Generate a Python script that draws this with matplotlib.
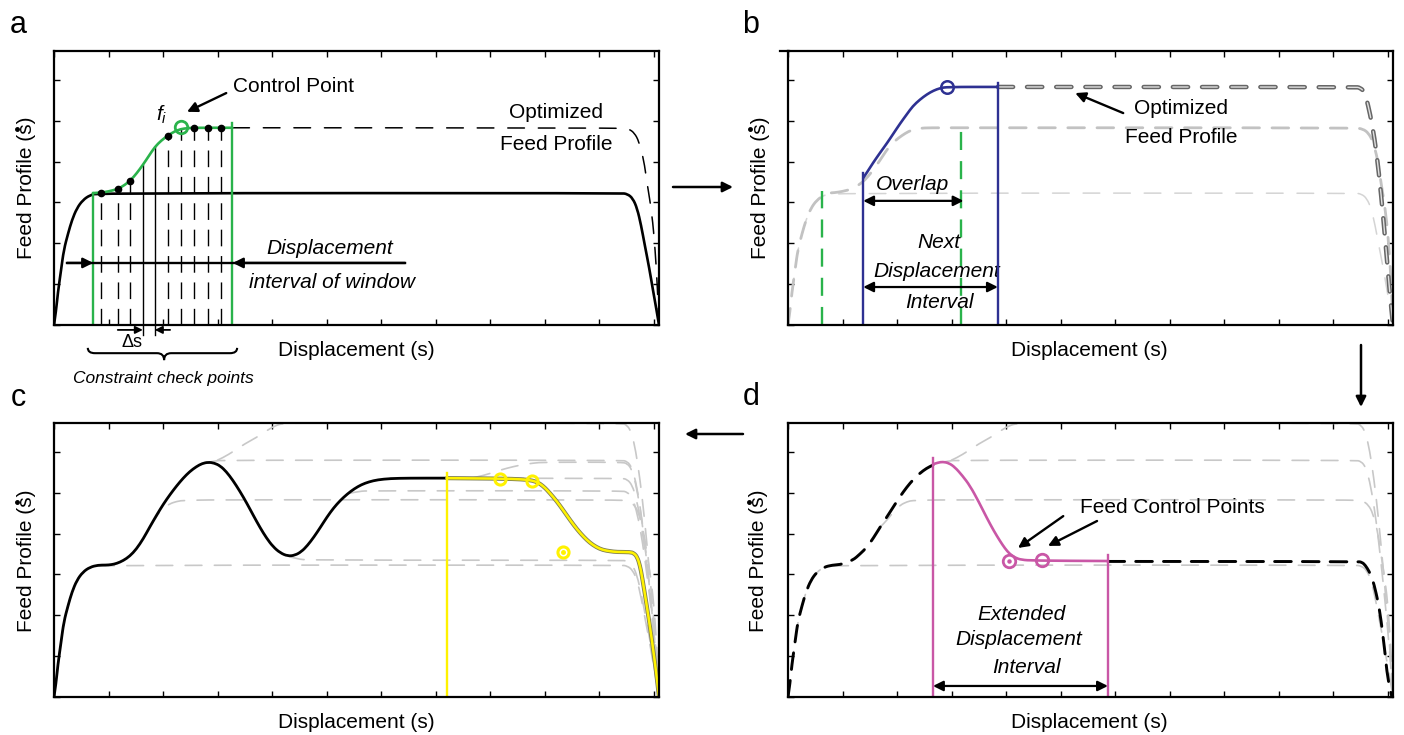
import numpy as np
import matplotlib
matplotlib.use('Agg')
import matplotlib.pyplot as plt
from matplotlib.path import Path
from matplotlib.patches import PathPatch
import matplotlib.patheffects as pe

plt.rcParams['font.family'] = ['Liberation Sans', 'DejaVu Sans']
plt.rcParams['mathtext.fontset'] = 'custom'
plt.rcParams['mathtext.it'] = 'Liberation Sans:italic'
plt.rcParams['mathtext.rm'] = 'Liberation Sans'
plt.rcParams['lines.scale_dashes'] = False

# ---------------- data ----------------
BASE_PROFILE = [(0, 0), (0.04, 0.37), (0.07, 0.78), (0.13, 1.35), (0.18, 1.84), (0.26, 2.25),
                (0.33, 2.57), (0.42, 2.86), (0.53, 3.06), (0.66, 3.18), (0.81, 3.23), (10.40, 3.23),
                (10.52, 3.21), (10.62, 3.10), (10.70, 2.85), (10.77, 2.45), (10.84, 1.95),
                (10.92, 1.40), (10.99, 0.85), (11.05, 0.40), (11.10, 0.0)]
A_OPT = [(3.28, 4.83), (10.40, 4.83), (10.55, 4.80), (10.65, 4.70), (10.73, 4.50), (10.82, 4.05),
         (10.88, 3.48), (10.97, 2.74), (11.03, 1.84), (11.07, 0.93), (11.10, 0.0)]
A_WINDOW = [(0.72, 3.23), (0.85, 3.24), (1.0, 3.27), (1.17, 3.33), (1.3, 3.43), (1.41, 3.55),
            (1.52, 3.72), (1.63, 3.92), (1.74, 4.14), (1.85, 4.36), (1.97, 4.52), (2.09, 4.64),
            (2.21, 4.74), (2.33, 4.80), (2.45, 4.82), (2.57, 4.83), (3.27, 4.83)]
WINDOW_A = [0.72, 3.27]
WINDOW_A_TOP = [3.23, 4.94]
CHECK_X = [0.86, 1.17, 1.39, 1.63, 1.85, 2.09, 2.33, 2.57, 2.83, 3.06]
CHECK_F = [3.24, 3.33, 3.53, 3.92, 4.36, 4.64, 4.80, 4.83, 4.83, 4.83]
CHECK_DASH_TOP = [3.23, 3.23, 3.23, 0, 0, 4.64, 4.80, 4.83, 4.83, 4.83]
CHECK_SOLID_BOTTOM = [3.23, 3.23, 3.23, -0.25, -0.25, None, None, None, None, None]
CHECK_DOT = [1, 1, 1, 0, 0, 1, 0, 1, 1, 1]
CONTROL_A = (2.33, 4.86)

B_NEW = [(3.85, 5.83), (10.40, 5.83), (10.50, 5.81), (10.58, 5.70), (10.64, 5.40), (10.72, 4.90),
         (10.80, 4.20), (10.88, 3.23), (10.97, 1.90), (11.04, 0.80), (11.10, 0.0)]
B_BLUE = [(1.38, 3.60), (1.47, 3.78), (1.56, 3.97), (1.69, 4.22), (1.82, 4.46), (1.94, 4.70),
          (2.06, 4.94), (2.18, 5.16), (2.29, 5.36), (2.42, 5.52), (2.55, 5.65), (2.67, 5.74),
          (2.79, 5.80), (2.92, 5.83), (3.85, 5.83)]
WINDOW_B = [1.38, 3.85]
WINDOW_B_TOP = [3.72, 5.92]
OLD_WINDOW_B = [0.62, 3.17]
OLD_WINDOW_B_TOP = [3.28, 4.90]
CONTROL_B = (2.92, 5.83)

C_BLACK = [(0.95, 3.23), (1.05, 3.24), (1.15, 3.27), (1.27, 3.34), (1.39, 3.45), (1.51, 3.62),
           (1.64, 3.88), (1.76, 4.17), (1.89, 4.47), (2.01, 4.73), (2.13, 4.96), (2.25, 5.17),
           (2.37, 5.36), (2.49, 5.52), (2.61, 5.64), (2.72, 5.72), (2.83, 5.75), (2.94, 5.73),
           (3.05, 5.66), (3.16, 5.52), (3.28, 5.31), (3.41, 5.04), (3.54, 4.74), (3.66, 4.44),
           (3.78, 4.15), (3.90, 3.89), (4.02, 3.68), (4.15, 3.53), (4.29, 3.45), (4.42, 3.47),
           (4.54, 3.56), (4.65, 3.71), (4.77, 3.92), (4.89, 4.16), (5.01, 4.41), (5.13, 4.63),
           (5.25, 4.81), (5.38, 4.97), (5.51, 5.10), (5.64, 5.20), (5.78, 5.27), (5.94, 5.32),
           (6.17, 5.35), (6.5, 5.36), (7.21, 5.36)]
C_YELLOW = [(7.21, 5.36), (8.2, 5.35), (8.6, 5.33), (8.73, 5.31), (8.83, 5.28), (8.92, 5.22),
            (9.01, 5.12), (9.10, 4.99), (9.22, 4.80), (9.34, 4.58), (9.47, 4.33), (9.6, 4.10),
            (9.72, 3.92), (9.83, 3.78), (9.95, 3.67), (10.07, 3.60), (10.2, 3.57), (10.33, 3.55),
            (10.57, 3.55), (10.64, 3.52), (10.70, 3.43), (10.75, 3.22), (10.79, 2.94), (10.88, 2.20),
            (10.97, 1.40), (11.05, 0.59), (11.10, 0.0)]
C_CONTROLS = [(8.18, 5.34), (8.77, 5.29), (9.34, 3.55)]
C_WINDOW = 7.21
C_WINDOW_TOP = 5.48
C_G2_START = [(1.76, 4.17), (1.89, 4.45), (2.0, 4.62), (2.12, 4.73), (2.25, 4.79), (2.4, 4.82)]
G_PEAK = [(2.83, 5.75), (2.95, 5.78), (3.1, 5.80), (10.40, 5.80), (10.52, 5.77), (10.60, 5.62),
          (10.67, 5.30), (10.75, 4.70), (10.83, 3.90), (10.92, 2.80), (11.0, 1.70), (11.06, 0.75),
          (11.1, 0)]
G_TOP = [(3.0, 5.80), (3.1, 5.86), (3.3, 6.02), (3.5, 6.20), (3.72, 6.36), (3.9, 6.52), (4.05, 6.64),
         (4.2, 6.70), (4.5, 6.71), (10.40, 6.71), (10.52, 6.66), (10.60, 6.45), (10.67, 6.05),
         (10.75, 5.35), (10.84, 4.30), (10.93, 3.00), (11.01, 1.80), (11.06, 0.80), (11.1, 0)]
G_RECOVER = [(5.43, 4.99), (5.6, 5.04), (5.8, 5.05), (10.40, 5.05), (10.52, 5.02), (10.61, 4.88),
             (10.68, 4.60), (10.76, 4.10), (10.84, 3.40), (10.93, 2.45), (11.01, 1.50), (11.06, 0.70),
             (11.1, 0)]
G_TROUGH = [(4.29, 3.45), (4.45, 3.38), (4.7, 3.35), (10.40, 3.35), (10.52, 3.33), (10.62, 3.22),
            (10.70, 2.96), (10.77, 2.55), (10.85, 2.00), (10.93, 1.42), (11.0, 0.85), (11.05, 0.40),
            (11.1, 0)]
G_PLATEAU = [(6.17, 5.36), (10.40, 5.36), (10.52, 5.33), (10.61, 5.18), (10.68, 4.88), (10.76, 4.35),
             (10.84, 3.62), (10.93, 2.60), (11.01, 1.58), (11.06, 0.72), (11.1, 0)]
G_LIFT = [(7.7, 5.37), (7.9, 5.43), (8.1, 5.52), (8.3, 5.60), (8.55, 5.68), (8.8, 5.73), (9.0, 5.75),
          (10.40, 5.75), (10.52, 5.72), (10.60, 5.57), (10.67, 5.25), (10.75, 4.66), (10.83, 3.86),
          (10.92, 2.77), (11.0, 1.68), (11.06, 0.74), (11.1, 0)]

D_G2_START = [(1.69, 4.16), (1.82, 4.33), (1.94, 4.55), (2.06, 4.70), (2.18, 4.78), (2.3, 4.82)]
D_BLACK_RISE = [(1.0, 3.25), (1.19, 3.35), (1.32, 3.50), (1.45, 3.67), (1.57, 3.90), (1.69, 4.16),
                (1.81, 4.40), (1.93, 4.65), (2.05, 4.90), (2.18, 5.14), (2.30, 5.33), (2.42, 5.48),
                (2.54, 5.60), (2.66, 5.68)]
D_MAGENTA = [(2.66, 5.70), (2.75, 5.74), (2.84, 5.76), (2.95, 5.73), (3.06, 5.63), (3.2, 5.42),
             (3.34, 5.17), (3.5, 4.78), (3.65, 4.38), (3.78, 4.06), (3.89, 3.82), (3.98, 3.64),
             (4.07, 3.50), (4.17, 3.41), (4.28, 3.36), (4.5, 3.34), (5.87, 3.33)]
D_BLACK_TAIL = [(5.87, 3.32), (10.45, 3.32), (10.53, 3.30), (10.59, 3.23), (10.66, 3.08), (10.72, 2.91),
                (10.79, 2.55), (10.86, 2.10), (10.95, 1.13), (11.0, 0.47), (11.08, 0.0)]
D_CONTROLS = [(4.06, 3.33), (4.66, 3.35)]
D_WINDOW = [2.66, 5.87]
D_WINDOW_TOP = [5.85, 3.48]

# ---------------- styling ----------------
W, H = 1404, 735
GREEN = '#2AB34B'
BLUE = '#2E3192'
YELLOW = '#FFF200'
MAGENTA = '#C957A6'
GRAY = '#c8c8c8'
FS = 15

fig = plt.figure(figsize=(W / 100, H / 100), dpi=100)


def panel(left, top):
    ax = fig.add_axes([left / W, 1 - (top + 274) / H, 605 / W, 274 / H])
    ax.set_xlim(0, 11.1)
    ax.set_ylim(0, 6.71)
    ax.set_xticks(range(12))
    ax.set_yticks(range(7))
    ax.tick_params(direction='in', top=True, right=True, length=4.3, width=1,
                   labelbottom=False, labelleft=False)
    for s in ax.spines.values():
        s.set_linewidth(1.6)
        s.set_zorder(5)
    return ax


def curve(ax, pts, color, lw, ls='-', zorder=3, clip_on=True, path_effects=None):
    """Smooth curve through the read points, drawn as a quadratic Bezier path."""
    p = np.array(pts, float)
    verts = [p[0]]
    codes = [Path.MOVETO]
    for i in range(1, len(p) - 1):
        verts += [p[i], (p[i] + p[i + 1]) / 2]
        codes += [Path.CURVE3, Path.CURVE3]
    verts.append(p[-1])
    codes.append(Path.LINETO)
    patch = PathPatch(Path(verts, codes), fill=False, edgecolor=color, lw=lw, linestyle=ls,
                      zorder=zorder, clip_on=clip_on, capstyle='round', joinstyle='round')
    if path_effects:
        patch.set_path_effects(path_effects)
    ax.add_patch(patch)


def xy(pts):
    a = np.array(pts, float)
    return a[:, 0], a[:, 1]


def arrow(ax, start, end, style='-|>', lw=1.5, ms=15):
    ax.annotate('', xy=end, xytext=start, annotation_clip=False,
                arrowprops=dict(arrowstyle=style, color='k', lw=lw, mutation_scale=ms,
                                shrinkA=0, shrinkB=0))


gray_ls = (0, (12, 9))

# ---------------- panel a ----------------
ax = panel(54, 51)
curve(ax, BASE_PROFILE, 'k', 1.9)
curve(ax, A_OPT, 'k', 1.1, ls=(0, (12, 10)))
for x, f, dt, sb, dot in zip(CHECK_X, CHECK_F, CHECK_DASH_TOP, CHECK_SOLID_BOTTOM, CHECK_DOT):
    if dt > 0:
        ax.plot([x, x], [0, dt], color='k', lw=1.0, ls=(0, (12, 7)), zorder=2)
    if sb is not None:
        ax.plot([x, x], [sb, f], color='k', lw=1.0, zorder=2, clip_on=False)
    if dot:
        ax.plot([x], [f], 'o', color='k', ms=4.5, zorder=6)
for x, t in zip(WINDOW_A, WINDOW_A_TOP):
    ax.plot([x, x], [0, t], color=GREEN, lw=1.7, zorder=4)
curve(ax, A_WINDOW, GREEN, 1.9, zorder=4)
ax.plot([CONTROL_A[0]], [CONTROL_A[1]], 'o', mfc='none', mec=GREEN, ms=9, mew=2, zorder=6)

ax.text(3.28, 5.83, 'Control Point', fontsize=FS, ha='left', va='center')
arrow(ax, (3.16, 5.68), (2.44, 5.22), lw=1.7)
ax.text(1.98, 5.14, r'$f_i$', fontsize=FS, ha='center', va='center')
ax.text(9.21, 5.21, 'Optimized', fontsize=FS, ha='center', va='center')
ax.text(9.21, 4.41, 'Feed Profile', fontsize=FS, ha='center', va='center')
ax.text(5.05, 1.88, 'Displacement', fontsize=FS, ha='center', va='center', style='italic')
ax.text(5.10, 1.05, 'interval of window', fontsize=FS, ha='center', va='center', style='italic')
ax.plot([0.24, 6.44], [1.52, 1.52], color='k', lw=1.7, zorder=4)
arrow(ax, (0.24, 1.52), (0.72, 1.52), lw=1.7)
arrow(ax, (6.44, 1.52), (3.28, 1.52), lw=1.7)
arrow(ax, (1.17, -0.12), (1.63, -0.12), lw=1.3, ms=11)
arrow(ax, (2.13, -0.12), (1.85, -0.12), lw=1.3, ms=11)
ax.text(1.43, -0.42, 'Δs', fontsize=13, ha='center', va='center')
brace = Path([(0.62, -0.56), (0.62, -0.69), (0.75, -0.69), (1.89, -0.69), (2.02, -0.69), (2.02, -0.86),
              (2.02, -0.69), (2.15, -0.69), (3.23, -0.69), (3.36, -0.69), (3.36, -0.56)],
             [Path.MOVETO, Path.CURVE3, Path.CURVE3, Path.LINETO, Path.CURVE3, Path.CURVE3,
              Path.CURVE3, Path.CURVE3, Path.LINETO, Path.CURVE3, Path.CURVE3])
ax.add_patch(PathPatch(brace, fill=False, lw=1.5, color='k', clip_on=False))
ax.text(2.0, -1.30, 'Constraint check points', fontsize=12.5, ha='center', va='center', style='italic')

# ---------------- panel b ----------------
ax = panel(788, 51)
curve(ax, BASE_PROFILE, '#d4d4d4', 1.1, ls=(0, (12, 10)), zorder=2)
curve(ax, BASE_PROFILE[:10] + A_WINDOW + A_OPT, '#c2c2c2', 2.0, ls=(0, (12, 9)), zorder=2)
curve(ax, B_NEW, '#e0e0e0', 1.0, ls=(0, (11, 10)), zorder=3,
      path_effects=[pe.Stroke(linewidth=3.2, foreground='#666666'), pe.Normal()])
for x, t in zip(OLD_WINDOW_B, OLD_WINDOW_B_TOP):
    ax.plot([x, x], [0, t], color=GREEN, lw=1.7, ls=(0, (13, 8)), zorder=3)
for x, t in zip(WINDOW_B, WINDOW_B_TOP):
    ax.plot([x, x], [0, t], color=BLUE, lw=1.7, zorder=4)
curve(ax, B_BLUE, BLUE, 1.9, zorder=4)
ax.plot([CONTROL_B[0]], [CONTROL_B[1]], 'o', mfc='none', mec=BLUE, ms=9, mew=1.8, zorder=6)
ax.text(2.29, 3.43, 'Overlap', fontsize=FS, ha='center', va='center', style='italic')
arrow(ax, (1.38, 3.04), (3.22, 3.04), style='<|-|>', lw=1.6)
ax.text(2.77, 2.01, 'Next', fontsize=FS, ha='center', va='center', style='italic')
ax.text(2.73, 1.30, 'Displacement', fontsize=FS, ha='center', va='center', style='italic')
ax.text(2.77, 0.56, 'Interval', fontsize=FS, ha='center', va='center', style='italic')
arrow(ax, (1.38, 0.93), (3.85, 0.93), style='<|-|>', lw=1.6)
ax.text(7.21, 5.31, 'Optimized', fontsize=FS, ha='center', va='center')
ax.text(7.21, 4.58, 'Feed Profile', fontsize=FS, ha='center', va='center')
arrow(ax, (6.15, 5.19), (5.27, 5.68), lw=1.7)

# ---------------- panel c ----------------
ax = panel(54, 423)
for pts in [BASE_PROFILE, C_G2_START + A_OPT, G_PEAK, G_TOP, G_RECOVER, G_TROUGH, G_PLATEAU, G_LIFT]:
    curve(ax, pts, GRAY, 1.2, ls=gray_ls, zorder=2, clip_on=False)
curve(ax, BASE_PROFILE[:11] + C_BLACK, 'k', 2.0, zorder=4)
curve(ax, C_YELLOW, YELLOW, 1.8, zorder=4,
      path_effects=[pe.Stroke(linewidth=3.0, foreground='#7d7d55'), pe.Normal()])
ax.plot([C_WINDOW, C_WINDOW], [0, C_WINDOW_TOP], color=YELLOW, lw=1.7, zorder=4)
cx, cy = xy(C_CONTROLS)
ax.plot(cx, cy, 'o', mfc='none', mec=YELLOW, ms=8, mew=2.2, zorder=6)
ax.plot(cx[2:], cy[2:], 'o', color=YELLOW, ms=2.5, zorder=6)

# ---------------- panel d ----------------
ax = panel(788, 423)
for pts in [BASE_PROFILE, D_G2_START + A_OPT, G_PEAK, G_TOP]:
    curve(ax, pts, GRAY, 1.2, ls=gray_ls, zorder=2, clip_on=False)
curve(ax, BASE_PROFILE[:11] + D_BLACK_RISE, 'k', 2.1, ls=(0, (12, 8)), zorder=3)
curve(ax, D_BLACK_TAIL, 'k', 2.1, ls=(0, (12, 8)), zorder=3)
for x, t in zip(D_WINDOW, D_WINDOW_TOP):
    ax.plot([x, x], [0, t], color=MAGENTA, lw=1.7, zorder=4)
curve(ax, D_MAGENTA, MAGENTA, 1.9, zorder=4)
mx, my = xy(D_CONTROLS)
ax.plot(mx[:1], my[:1], 'o', mfc='white', mec=MAGENTA, ms=9, mew=2, zorder=6)
ax.plot(mx[:1], my[:1], 'o', color=MAGENTA, ms=2.2, zorder=7)
ax.plot(mx[1:], my[1:], 'o', mfc='none', mec=MAGENTA, ms=9, mew=2, zorder=6)
ax.text(7.06, 4.65, 'Feed Control Points', fontsize=FS, ha='center', va='center')
arrow(ax, (5.05, 4.43), (4.22, 3.65), lw=1.7)
arrow(ax, (5.67, 4.31), (4.77, 3.70), lw=1.7)
ax.text(4.29, 2.03, 'Extended', fontsize=FS, ha='center', va='center', style='italic')
ax.text(4.24, 1.40, 'Displacement', fontsize=FS, ha='center', va='center', style='italic')
ax.text(4.37, 0.73, 'Interval', fontsize=FS, ha='center', va='center', style='italic')
arrow(ax, (2.66, 0.27), (5.87, 0.27), style='<|-|>', lw=1.6)

# ---------------- overlay (labels and flow arrows) ----------------
ov = fig.add_axes([0, 0, 1, 1])
ov.set_xlim(0, W)
ov.set_ylim(H, 0)
ov.axis('off')
for x, y, s in [(18, 33, 'a'), (751, 33, 'b'), (18, 406, 'c'), (751, 405, 'd')]:
    ov.text(x, y, s, fontsize=22, ha='center', va='baseline')
for x, y in [(27, 188), (760, 188), (27, 561), (759, 561)]:
    ov.text(x, y, 'Feed Profile (s)', fontsize=FS, rotation=90, ha='center', va='center')
    # dot accent above the "s" (derivative of displacement)
    ov.plot([x - 10.5], [y - 59], 'o', color='k', ms=2.5, zorder=10)
for x, y in [(356, 350), (1089, 350), (356, 723), (1089, 723)]:
    ov.text(x, y, 'Displacement (s)', fontsize=FS, ha='center', va='center')
ov.plot([780, 789], [51, 51], color='k', lw=1.6)
arrow(ov, (673, 187), (733, 187), lw=1.8)
arrow(ov, (1361, 345), (1361, 407), lw=1.8)
arrow(ov, (743, 434), (685, 434), lw=1.8)

fig.savefig('out.png', dpi=100)
